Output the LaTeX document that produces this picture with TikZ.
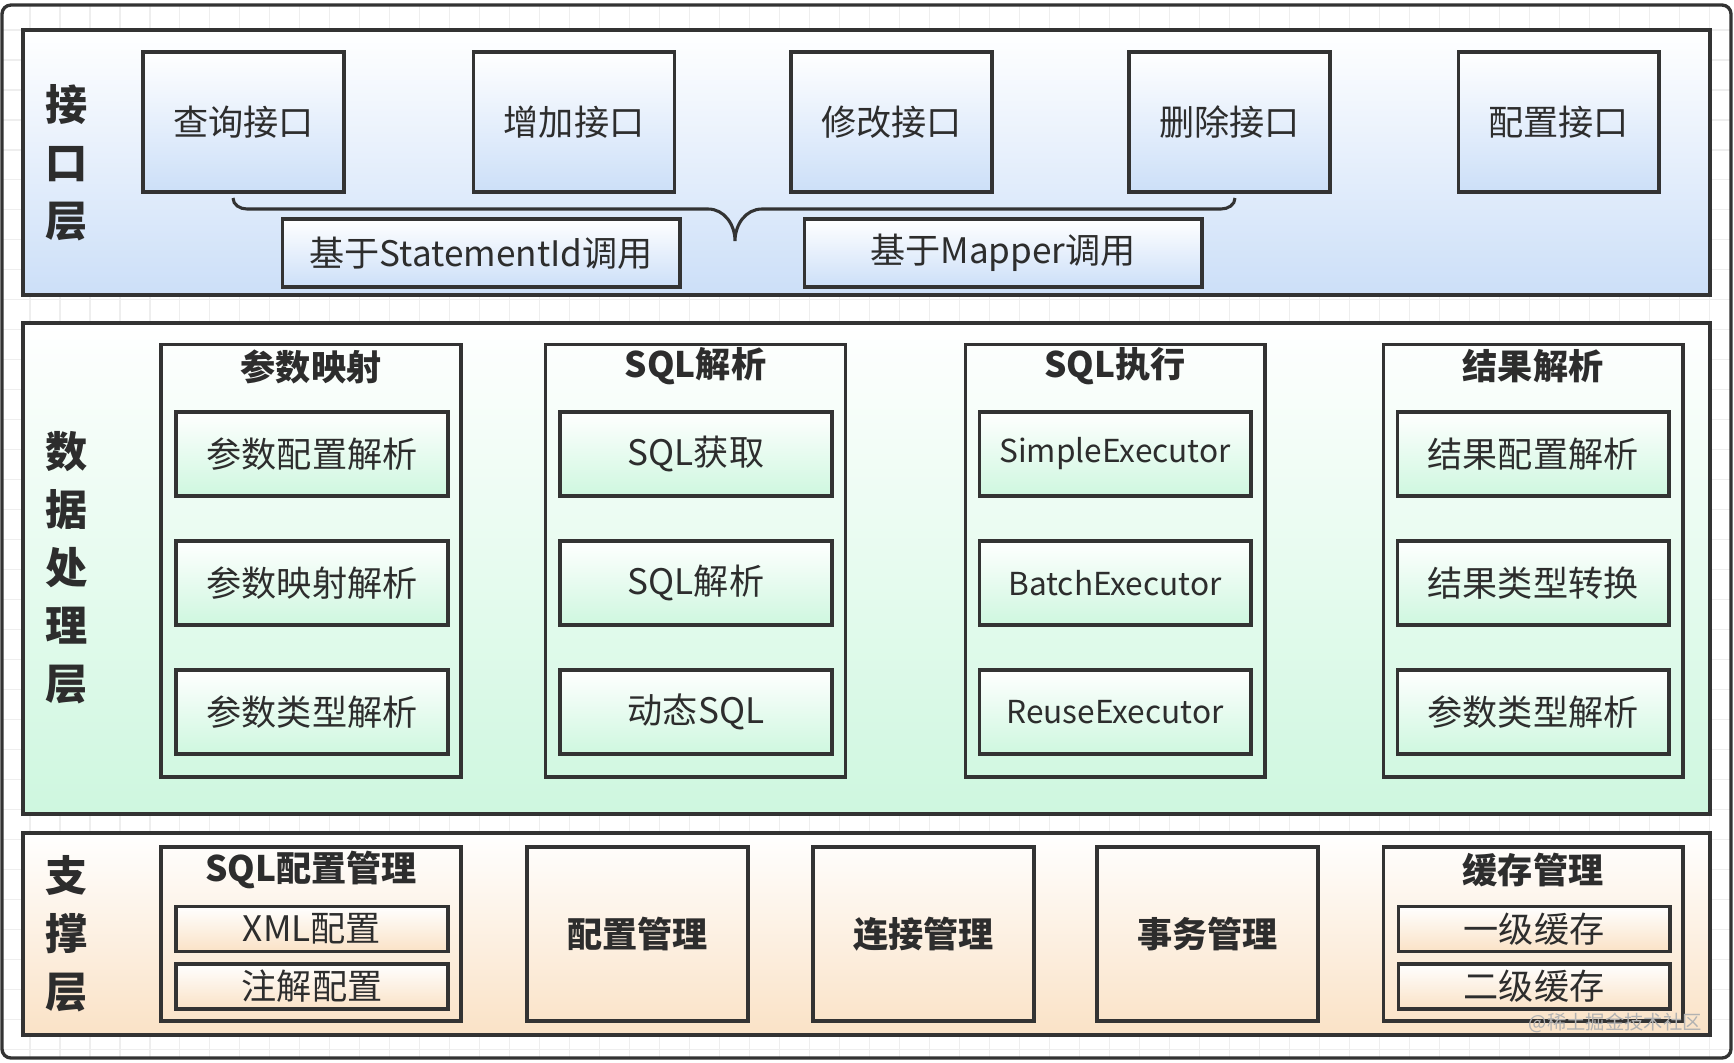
\documentclass[tikz,border=0pt]{standalone}
\usepackage{fontspec}
\setmainfont{Noto Sans CJK SC}
\usetikzlibrary{positioning}

\definecolor{linec}{RGB}{51,51,51}
\definecolor{textc}{RGB}{45,45,45}
\definecolor{gridc}{RGB}{238,238,238}
\definecolor{bluebot}{RGB}{204,223,248}
\definecolor{greenbot}{RGB}{206,247,223}
\definecolor{orangebot}{RGB}{250,226,198}

\begin{document}
\begin{tikzpicture}[x=0.02cm, y=-0.02cm,
  layer/.style={draw=linec, line width=1.9pt, minimum width=33.74cm, top color=white},
  btn/.style={draw=linec, line width=1.75pt, top color=white, text=textc, font=\fontsize{20}{24}\selectfont},
  grp/.style={draw=linec, line width=1.75pt, text=textc, minimum width=6cm},
  ttl/.style={text=textc, font=\fontsize{20}{24}\selectfont\bfseries},
  side/.style={text=textc, align=center, font=\fontsize{24}{33}\selectfont\bfseries},
  brace/.style={draw=linec, line width=1.75pt}
]
  \useasboundingbox (0,0) rectangle (1734,1062);

  % canvas
  \draw[gridc, line width=0.6pt, step=0.6cm] (2,5) grid (1731,1058);
  \draw[linec, line width=1.9pt, rounded corners=0.18cm] (2,5) rectangle (1731,1058);

  % layers
  \node[layer, bottom color=bluebot, minimum height=5.3cm] (api) at (866.5,162.5) {};
  \node[layer, bottom color=greenbot, minimum height=9.82cm] (data) at (866.5,568.5) {};
  \node[layer, bottom color=orangebot, minimum height=4.04cm] (base) at (866.5,934) {};

  \node[side] (apiT) at (67,163) {接\\口\\层};
  \node[side] (dataT) at (67,568) {数\\据\\处\\理\\层};
  \node[side] (baseT) at (67,934) {支\\撑\\层};

  % interface layer
  \foreach \name/\x/\txt in {query/243.5/查询接口, add/574/增加接口, modify/891.5/修改接口,
                             delete/1229.5/删除接口, config/1558.5/配置接口}
    \node[btn, bottom color=bluebot, minimum width=4.02cm, minimum height=2.8cm] (\name) at (\x,122) {\txt};

  \node[btn, bottom color=bluebot, minimum width=7.96cm, minimum height=1.36cm] (byId) at (481,253) {基于StatementId调用};
  \node[btn, bottom color=bluebot, minimum width=7.96cm, minimum height=1.36cm] (byMapper) at (1003,253) {基于Mapper调用};

  \coordinate (brL) at (233,198);
  \coordinate (brT) at (735,241);
  \coordinate (brR) at (1235,198);
  \draw[brace] (brL) to[out=270,in=180] (247,209) -- (708,209) to[out=0,in=90] (brT)
    to[out=90,in=180] (762,209) -- (1221,209) to[out=0,in=270] (brR);

  % data processing layer
  \node[grp, minimum height=8.66cm] (pmap) at (311,560.5) {};
  \node[grp, minimum height=8.66cm] (sqlparse) at (695.5,560.5) {};
  \node[grp, minimum height=8.66cm] (sqlexec) at (1115,560.5) {};
  \node[grp, minimum height=8.66cm] (result) at (1533,560.5) {};

  \node[ttl] (pmapT) at ([yshift=-0.48cm]pmap.north) {参数映射};
  \node[ttl] (sqlparseT) at ([yshift=-0.48cm]sqlparse.north) {SQL解析};
  \node[ttl] (sqlexecT) at ([yshift=-0.48cm]sqlexec.north) {SQL执行};
  \node[ttl] (resultT) at ([yshift=-0.48cm]result.north) {结果解析};

  \tikzset{inner/.style={btn, bottom color=greenbot, minimum width=5.44cm, minimum height=1.68cm}}
  \node[inner] (pm1) at (312,454) {参数配置解析};
  \node[inner] (pm2) at (312,583) {参数映射解析};
  \node[inner] (pm3) at (312,712) {参数类型解析};
  \node[inner] (sp1) at (696,454) {SQL获取};
  \node[inner] (sp2) at (696,583) {SQL解析};
  \node[inner] (sp3) at (696,712) {动态SQL};
  \node[inner, font=\fontsize{18}{22}\selectfont] (se1) at (1115,454) {SimpleExecutor};
  \node[inner, font=\fontsize{18}{22}\selectfont] (se2) at (1115,583) {BatchExecutor};
  \node[inner, font=\fontsize{18}{22}\selectfont] (se3) at (1115,712) {ReuseExecutor};
  \node[inner] (rs1) at (1533,454) {结果配置解析};
  \node[inner] (rs2) at (1533,583) {结果类型转换};
  \node[inner] (rs3) at (1533,712) {参数类型解析};

  % support layer
  \node[grp, minimum height=3.48cm] (sqlcfg) at (311,934) {};
  \node[ttl] (sqlcfgT) at ([yshift=-0.5cm]sqlcfg.north) {SQL配置管理};
  \node[btn, bottom color=orangebot, minimum width=5.44cm, minimum height=0.9cm] (xmlcfg) at (312,929) {XML配置};
  \node[btn, bottom color=orangebot, minimum width=5.44cm, minimum height=0.9cm] (annocfg) at (312,986.5) {注解配置};

  \node[grp, ttl, minimum width=4.42cm, minimum height=3.48cm] (cfgmgr) at (637.5,934) {配置管理};
  \node[grp, ttl, minimum width=4.42cm, minimum height=3.48cm] (connmgr) at (923.5,934) {连接管理};
  \node[grp, ttl, minimum width=4.42cm, minimum height=3.48cm] (txmgr) at (1207.5,934) {事务管理};

  \node[grp, minimum height=3.48cm] (cache) at (1533,934) {};
  \node[ttl] (cacheT) at ([yshift=-0.5cm]cache.north) {缓存管理};
  \node[btn, bottom color=orangebot, minimum width=5.44cm, minimum height=0.9cm] (cache1) at (1534,929) {一级缓存};
  \node[btn, bottom color=orangebot, minimum width=5.44cm, minimum height=0.9cm] (cache2) at (1534,986.5) {二级缓存};

  \node[anchor=east, text=black!30, font=\fontsize{11}{13}\selectfont] (mark) at (1708,1023) {@稀土掘金技术社区};
\end{tikzpicture}
\end{document}
